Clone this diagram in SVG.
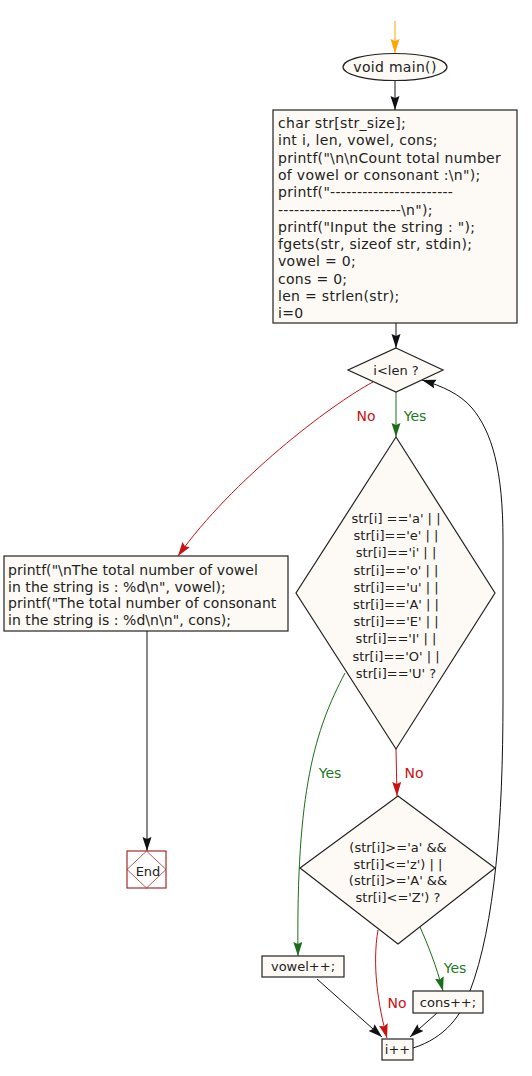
<svg xmlns="http://www.w3.org/2000/svg" width="532" height="1076" viewBox="0 0 532 1076">
<defs>
<style>
.box{fill:#fdfaf5;stroke:#222;stroke-width:1.2}
.t{font-family:"DejaVu Sans","Liberation Sans",sans-serif;font-size:13px;fill:#222}
.w{font-size:14px;letter-spacing:0.3px}
.w2{font-size:14px;letter-spacing:0.05px}
.c{text-anchor:middle}
.lbl{font-family:"DejaVu Sans","Liberation Sans",sans-serif;font-size:14px}
.yes{fill:#1e7a1e}
.no{fill:#cc1111}
.e{fill:none;stroke-width:1}
.k{stroke:#111}
.g{stroke:#1a6e1a}
.r{stroke:#cc1111}
.o{stroke:#ffa500}
</style>
<marker id="ak" markerUnits="userSpaceOnUse" markerWidth="15" markerHeight="10" refX="14" refY="4.5" orient="auto"><path d="M0,0 L14,4.5 L0,9 L2,4.5 z" fill="#111"/></marker>
<marker id="ag" markerUnits="userSpaceOnUse" markerWidth="15" markerHeight="10" refX="14" refY="4.5" orient="auto"><path d="M0,0 L14,4.5 L0,9 L2,4.5 z" fill="#1a6e1a"/></marker>
<marker id="ar" markerUnits="userSpaceOnUse" markerWidth="15" markerHeight="10" refX="14" refY="4.5" orient="auto"><path d="M0,0 L14,4.5 L0,9 L2,4.5 z" fill="#cc1111"/></marker>
<marker id="ao" markerUnits="userSpaceOnUse" markerWidth="15" markerHeight="10" refX="14" refY="4.5" orient="auto"><path d="M0,0 L14,4.5 L0,9 L2,4.5 z" fill="#ffa500"/></marker>
</defs>
<rect width="532" height="1076" fill="#fff"/>
<g id="connectors">
<path class="e o" d="M395,21 L395,53" marker-end="url(#ao)"/>
<path class="e k" d="M395,80 L395,110" marker-end="url(#ak)"/>
<path class="e k" d="M396,323 L396,348" marker-end="url(#ak)"/>
<path class="e g" d="M396,392 L396,437" marker-end="url(#ag)"/>
<path class="e r" d="M373,382 C330,405 232,480 178,556" marker-end="url(#ar)"/>
<path class="e k" d="M147,631 L147,851" marker-end="url(#ak)"/>
<path class="e r" d="M396,749 L397,796" marker-end="url(#ar)"/>
<path class="e g" d="M345,673 C315,730 296,790 298,956" marker-end="url(#ag)"/>
<path class="e g" d="M420,927 C428,945 436,965 443,991" marker-end="url(#ag)"/>
<path class="e r" d="M378,930 C372,965 378,1005 387,1038" marker-end="url(#ar)"/>
<path class="e k" d="M317,979 L382,1037" marker-end="url(#ak)"/>
<path class="e k" d="M437,1013 L410,1037" marker-end="url(#ak)"/>
<path class="e k" d="M413,1048 C445,1038 462,1015 470,991 C495,925 503,820 503,700 L503,540 C503,470 492,432 472,408 C460,394 442,386 422,380" marker-end="url(#ak)"/>
<text class="lbl no" x="366" y="421" text-anchor="middle">No</text>
<text class="lbl yes" x="415" y="421" text-anchor="middle">Yes</text>
<text class="lbl no" x="414" y="778" text-anchor="middle">No</text>
<text class="lbl yes" x="330" y="778" text-anchor="middle">Yes</text>
<text class="lbl yes" x="455" y="973" text-anchor="middle">Yes</text>
<text class="lbl no" x="397" y="1008" text-anchor="middle">No</text>
</g>
<g id="start">
<ellipse cx="395" cy="67" rx="52" ry="13.5" class="box"/>
<text class="t w c" x="395" y="72">void main()</text>
</g>
<g id="init">
<rect x="273" y="110" width="244" height="213" class="box"/>
<text class="t w" y="128"><tspan x="278">char str[str_size];</tspan><tspan x="278" dy="17.3">int i, len, vowel, cons;</tspan><tspan x="278" dy="17.3">printf("\n\nCount total number</tspan><tspan x="278" dy="17.3">of vowel or consonant :\n");</tspan><tspan x="278" dy="17.3">printf("-----------------------</tspan><tspan x="278" dy="17.3">-----------------------\n");</tspan><tspan x="278" dy="17.3">printf("Input the string : ");</tspan><tspan x="278" dy="17.3">fgets(str, sizeof str, stdin);</tspan><tspan x="278" dy="17.3">vowel = 0;</tspan><tspan x="278" dy="17.3">cons = 0;</tspan><tspan x="278" dy="17.3">len = strlen(str);</tspan><tspan x="278" dy="17.3">i=0</tspan></text>
</g>
<g id="cond1">
<polygon points="396,348 443,370 396,392 348,370" class="box"/>
<text class="t c" x="396" y="375">i&lt;len ?</text>
</g>
<g id="cond2">
<polygon points="396,437 495,593 396,749 296,593" class="box"/>
<text class="t c" y="523"><tspan x="396">str[i] =='a' | |</tspan><tspan x="396" dy="17.2">str[i]=='e' | |</tspan><tspan x="396" dy="17.2">str[i]=='i' | |</tspan><tspan x="396" dy="17.2">str[i]=='o' | |</tspan><tspan x="396" dy="17.2">str[i]=='u' | |</tspan><tspan x="396" dy="17.2">str[i]=='A' | |</tspan><tspan x="396" dy="17.2">str[i]=='E' | |</tspan><tspan x="396" dy="17.2">str[i]=='I' | |</tspan><tspan x="396" dy="17.2">str[i]=='O' | |</tspan><tspan x="396" dy="17.2">str[i]=='U' ?</tspan></text>
</g>
<g id="output">
<rect x="4" y="556" width="284" height="75" class="box"/>
<text class="t w2" y="575"><tspan x="8">printf("\nThe total number of vowel</tspan><tspan x="8" dy="16.7">in the string is : %d\n", vowel);</tspan><tspan x="8" dy="16.7">printf("The total number of consonant</tspan><tspan x="8" dy="16.7">in the string is : %d\n\n", cons);</tspan></text>
</g>
<g id="end">
<rect x="127" y="851" width="39" height="37" fill="#fff" stroke="#a52a2a" stroke-width="1.2"/>
<polygon points="146.5,851 166,869.5 146.5,888 127,869.5" fill="none" stroke="#b03030" stroke-width="0.8"/>
<text class="t c" x="148" y="876">End</text>
</g>
<g id="cond3">
<polygon points="398,796 495,868 398,944 300,868" class="box"/>
<text class="t c" y="852"><tspan x="398">(str[i]&gt;='a' &amp;&amp;</tspan><tspan x="398" dy="16.7">str[i]&lt;='z') | |</tspan><tspan x="398" dy="16.7">(str[i]&gt;='A' &amp;&amp;</tspan><tspan x="398" dy="16.7">str[i]&lt;='Z') ?</tspan></text>
</g>
<g id="vowelinc">
<rect x="262" y="956" width="82" height="21" class="box"/>
<text class="t c" x="303" y="971">vowel++;</text>
</g>
<g id="consinc">
<rect x="413" y="991" width="70" height="22" class="box"/>
<text class="t c" x="448" y="1007">cons++;</text>
</g>
<g id="iinc">
<rect x="382" y="1039" width="31" height="21" class="box"/>
<text class="t c" x="397.5" y="1054">i++</text>
</g>
</svg>
